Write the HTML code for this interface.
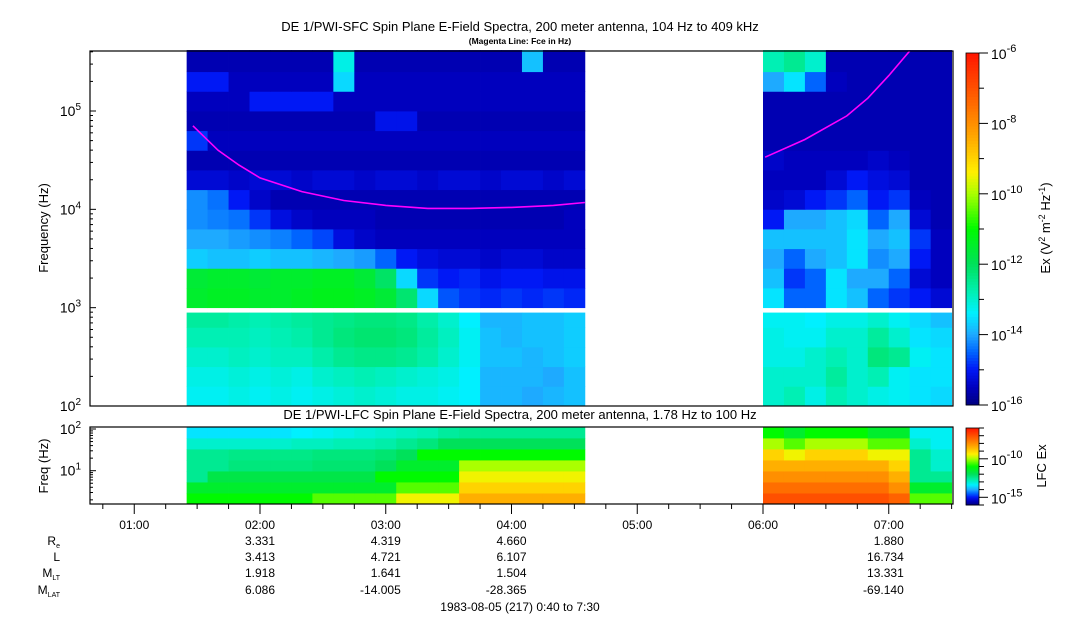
<!DOCTYPE html>
<html><head><meta charset="utf-8"><style>
html,body{margin:0;padding:0;background:#fff;}
svg{display:block;font-family:"Liberation Sans",sans-serif;}
</style></head><body>
<svg id="chart" width="1083" height="620" viewBox="0 0 1083 620" xmlns="http://www.w3.org/2000/svg">
<g id="cells"></g>
<g id="lines"></g>
<g id="axes"></g>
<text x="520" y="31" text-anchor="middle" font-size="13">DE 1/PWI-SFC  Spin Plane E-Field Spectra, 200 meter antenna, 104 Hz to 409 kHz</text>
<text x="520" y="44" text-anchor="middle" font-size="8.5" font-weight="bold">(Magenta Line: Fce in Hz)</text>
<text x="520" y="419" text-anchor="middle" font-size="13">DE 1/PWI-LFC  Spin Plane E-Field Spectra, 200 meter antenna, 1.78 Hz to 100 Hz</text>
<text transform="translate(48,228) rotate(-90)" text-anchor="middle" font-size="13">Frequency (Hz)</text>
<text transform="translate(48,466) rotate(-90)" text-anchor="middle" font-size="13">Freq (Hz)</text>
<text transform="translate(1050,228) rotate(-90)" text-anchor="middle" font-size="13">Ex (V<tspan dy="-5" font-size="9">2</tspan><tspan dy="5"> m</tspan><tspan dy="-5" font-size="9">-2</tspan><tspan dy="5"> Hz</tspan><tspan dy="-5" font-size="9">-1</tspan><tspan dy="5">)</tspan></text>
<text transform="translate(1046,466) rotate(-90)" text-anchor="middle" font-size="13">LFC Ex</text>
<g font-size="12">
<text x="60" y="545" text-anchor="end">R<tspan font-size="7" dy="3">e</tspan></text>
<text x="60" y="561" text-anchor="end">L</text>
<text x="60" y="577" text-anchor="end">M<tspan font-size="7" dy="3">LT</tspan></text>
<text x="60" y="594" text-anchor="end">M<tspan font-size="7" dy="3">LAT</tspan></text>
</g>
<g id="eph" font-size="12" text-anchor="end"></g>
<text x="520" y="611" text-anchor="middle" font-size="12">1983-08-05 (217) 0:40 to 7:30</text>
</svg>
<script>
// ---- data ----
const seg1Start = 85, seg2Start = 360, binMinutes = 10;
const sfcEdgesLow = [2.0, 2.2, 2.4, 2.6, 2.8, 2.95];
const sfcEdgesHigh = [3.0, 3.2, 3.4, 3.6, 3.8, 4.0, 4.2, 4.4, 4.6, 4.8, 5.0, 5.2, 5.4, 5.62];
const sfcSeg1 = [
[-13.3,-13.3,-13.2,-13.3,-13.2,-13.3,-13.2,-13.1,-13.0,-13.1,-13.2,-13.2,-13.3,-13.4,-13.9,-13.9,-14.0,-13.9,-13.8],
[-13.2,-13.2,-13.1,-13.2,-13.1,-13.2,-13.0,-12.9,-12.8,-12.9,-13.0,-13.1,-13.2,-13.4,-13.9,-13.9,-13.9,-14.0,-13.8],
[-13.0,-13.0,-12.9,-13.0,-12.9,-12.9,-12.7,-12.5,-12.4,-12.4,-12.5,-12.7,-13.0,-13.3,-13.8,-13.8,-13.9,-13.8,-13.7],
[-12.8,-12.8,-12.8,-12.9,-12.8,-12.7,-12.5,-12.3,-12.2,-12.2,-12.3,-12.6,-12.9,-13.3,-13.8,-13.9,-13.8,-13.8,-13.7],
[-12.6,-12.6,-12.7,-12.8,-12.7,-12.6,-12.5,-12.4,-12.3,-12.3,-12.4,-12.7,-13.0,-13.4,-13.9,-13.9,-13.8,-13.8,-13.7],
[-11.5,-11.4,-11.4,-11.5,-11.5,-11.4,-11.3,-11.3,-11.4,-11.6,-12.2,-13.6,-14.6,-14.8,-14.9,-14.8,-14.9,-14.8,-14.9],
[-11.6,-11.5,-11.5,-11.6,-11.5,-11.5,-11.4,-11.4,-11.6,-12.1,-13.6,-14.8,-15.0,-14.9,-15.1,-15.0,-15.0,-15.1,-15.1],
[-13.7,-13.8,-13.8,-13.7,-13.8,-13.8,-13.9,-14.0,-14.1,-14.5,-15.0,-15.2,-15.3,-15.3,-15.4,-15.3,-15.3,-15.4,-15.4],
[-14.0,-14.0,-14.1,-14.2,-14.3,-14.5,-14.7,-15.2,-15.4,-15.5,-15.5,-15.5,-15.5,-15.5,-15.5,-15.5,-15.5,-15.5,-15.5],
[-14.2,-14.3,-14.4,-14.8,-15.2,-15.4,-15.5,-15.5,-15.5,-15.6,-15.6,-15.6,-15.6,-15.6,-15.6,-15.6,-15.6,-15.6,-15.5],
[-14.2,-14.4,-15.0,-15.4,-15.6,-15.6,-15.6,-15.6,-15.6,-15.6,-15.6,-15.6,-15.6,-15.6,-15.6,-15.6,-15.6,-15.6,-15.6],
[-15.3,-15.3,-15.4,-15.3,-15.3,-15.4,-15.3,-15.3,-15.4,-15.3,-15.3,-15.4,-15.3,-15.3,-15.4,-15.3,-15.3,-15.4,-15.3],
[-15.6,-15.6,-15.6,-15.6,-15.6,-15.6,-15.6,-15.6,-15.6,-15.6,-15.6,-15.6,-15.6,-15.6,-15.6,-15.6,-15.6,-15.6,-15.6],
[-14.8,-15.5,-15.5,-15.5,-15.5,-15.5,-15.5,-15.5,-15.5,-15.5,-15.5,-15.5,-15.5,-15.5,-15.5,-15.5,-15.5,-15.5,-15.5],
[-15.6,-15.6,-15.6,-15.6,-15.6,-15.6,-15.6,-15.6,-15.6,-15.1,-15.1,-15.6,-15.6,-15.6,-15.6,-15.6,-15.6,-15.6,-15.6],
[-15.5,-15.5,-15.5,-15.0,-15.0,-15.0,-15.0,-15.5,-15.5,-15.5,-15.5,-15.5,-15.5,-15.5,-15.5,-15.5,-15.5,-15.5,-15.5],
[-15.0,-15.0,-15.5,-15.5,-15.5,-15.5,-15.5,-13.6,-15.5,-15.5,-15.5,-15.5,-15.5,-15.5,-15.5,-15.5,-15.5,-15.5,-15.5],
[-15.6,-15.6,-15.6,-15.6,-15.6,-15.6,-15.6,-13.2,-15.6,-15.6,-15.6,-15.6,-15.6,-15.6,-15.6,-15.6,-13.8,-15.6,-15.6]
];
const sfcSeg2 = [
[-13.0,-12.8,-13.2,-12.8,-13.0,-13.2,-13.3,-13.5,-13.6],
[-13.0,-13.0,-13.0,-12.6,-13.0,-12.8,-13.3,-13.5,-13.5],
[-13.2,-13.2,-13.0,-12.8,-13.0,-12.3,-12.5,-13.3,-13.5],
[-13.2,-13.3,-13.3,-13.0,-13.0,-12.6,-13.0,-13.5,-13.6],
[-13.3,-13.3,-13.4,-13.2,-13.2,-13.0,-13.3,-13.6,-13.8],
[-13.5,-14.5,-14.5,-13.5,-13.8,-14.5,-14.8,-15.0,-15.3],
[-13.8,-14.8,-14.5,-13.5,-14.0,-14.0,-14.5,-15.3,-15.5],
[-14.0,-14.5,-14.0,-13.8,-13.5,-14.2,-14.0,-15.0,-15.5],
[-13.8,-13.8,-13.8,-13.8,-13.5,-14.0,-13.8,-14.8,-15.5],
[-15.0,-14.0,-14.0,-13.8,-13.6,-14.5,-14.0,-15.3,-15.6],
[-15.4,-15.3,-15.0,-14.8,-14.5,-15.0,-14.8,-15.5,-15.6],
[-15.5,-15.5,-15.5,-15.3,-15.0,-15.2,-15.3,-15.6,-15.6],
[-15.4,-15.5,-15.5,-15.5,-15.5,-15.4,-15.5,-15.6,-15.6],
[-15.6,-15.6,-15.6,-15.6,-15.6,-15.6,-15.6,-15.6,-15.6],
[-15.6,-15.6,-15.6,-15.6,-15.6,-15.6,-15.6,-15.6,-15.6],
[-15.6,-15.6,-15.6,-15.6,-15.6,-15.6,-15.6,-15.6,-15.6],
[-14.0,-13.5,-14.5,-15.5,-15.6,-15.6,-15.6,-15.6,-15.6],
[-12.8,-12.5,-13.0,-15.6,-15.6,-15.6,-15.6,-15.6,-15.6]
];
const lfcEdges = [0.2, 0.464, 0.728, 0.992, 1.256, 1.52, 1.784, 2.05];
const lfcSeg1 = [
[-11.0,-11.0,-11.0,-11.0,-11.0,-11.0,-10.5,-10.5,-10.5,-10.5,-9.5,-9.5,-9.5,-8.5,-8.5,-8.5,-8.5,-8.5,-8.5],
[-11.5,-11.5,-11.5,-11.5,-11.5,-11.5,-11.5,-11.5,-11.5,-11.5,-10.5,-10.5,-10.5,-9.0,-9.0,-9.0,-9.0,-9.0,-9.0],
[-12.5,-11.8,-11.8,-11.8,-11.8,-11.8,-11.8,-11.8,-11.8,-11.0,-11.0,-11.0,-11.0,-9.5,-9.5,-9.5,-9.5,-9.5,-9.5],
[-12.5,-12.5,-12.3,-12.3,-12.3,-12.3,-12.2,-12.2,-12.2,-12.0,-11.5,-11.5,-11.5,-10.0,-10.0,-10.0,-10.0,-10.0,-10.0],
[-12.5,-12.5,-12.4,-12.4,-12.4,-12.4,-12.3,-12.3,-12.3,-12.2,-12.0,-11.0,-11.0,-11.0,-11.0,-11.0,-11.0,-11.0,-11.0],
[-13.0,-13.0,-13.0,-13.0,-13.0,-12.9,-12.9,-12.8,-12.8,-12.7,-12.5,-12.3,-12.0,-12.0,-12.0,-12.0,-12.0,-12.0,-12.0],
[-13.5,-13.5,-13.5,-13.5,-13.5,-13.4,-13.3,-13.2,-13.1,-13.0,-12.9,-12.8,-12.6,-12.5,-12.5,-12.5,-12.5,-12.5,-12.5]
];
const lfcSeg2 = [
[-7.0,-7.0,-7.0,-7.0,-7.0,-7.0,-7.3,-10.5,-10.5],
[-7.5,-7.5,-7.5,-7.5,-7.5,-7.5,-8.0,-11.5,-11.5],
[-8.0,-8.0,-8.0,-8.0,-8.0,-8.0,-8.5,-12.5,-12.5],
[-8.5,-8.5,-8.5,-8.5,-8.5,-8.5,-9.0,-12.5,-13.0],
[-9.0,-9.5,-9.0,-9.0,-9.0,-9.5,-9.5,-12.5,-13.0],
[-10.0,-10.5,-10.0,-10.0,-10.0,-10.5,-10.5,-13.0,-13.3],
[-11.0,-11.5,-11.0,-11.0,-11.0,-11.5,-11.5,-13.3,-13.3]
];
const fceTimes1 = [88,100,110,120,140,160,180,200,220,240,260,275];
const fceLog1 = [4.85,4.60,4.45,4.32,4.18,4.09,4.04,4.01,4.01,4.02,4.04,4.07];
const fceTimes2 = [361,380,400,410,420,430];
const fceLog2 = [4.53,4.71,4.95,5.13,5.36,5.61];
const hourTicks = [60,120,180,240,300,360,420];
const hourLabels = ["01:00","02:00","03:00","04:00","05:00","06:00","07:00"];
const ephTimes = [120,180,240,420];
const ephRe = ["3.331","4.319","4.660","1.880"];
const ephL = ["3.413","4.721","6.107","16.734"];
const ephMLT = ["1.918","1.641","1.504","13.331"];
const ephMLAT = ["6.086","-14.005","-28.365","-69.140"];

// ---- scales ----
const NS = "http://www.w3.org/2000/svg";
const X0 = 90, X1 = 953;
function xOf(t){ return 260 + (t-120)*(503/240); }
function ySfc(l){ return 406 - (l-2)*98.33; }
function yLfc(l){ return 429 + (2-l)*41.7; }
const cStops = [[-16,[0,0,128]],[-15.5,[0,0,190]],[-15,[0,24,245]],[-14.5,[0,100,255]],[-14,[30,170,255]],[-13.4,[0,240,255]],[-12.8,[0,240,180]],[-12,[0,225,90]],[-11,[0,250,0]],[-10,[170,255,0]],[-9.4,[255,240,0]],[-8.5,[255,175,0]],[-7.5,[255,110,0]],[-6,[255,20,0]]];
function color(v){
  if(v<=cStops[0][0]) return "rgb("+cStops[0][1]+")";
  for(let i=1;i<cStops.length;i++){
    if(v<=cStops[i][0]){
      const a=cStops[i-1], b=cStops[i], f=(v-a[0])/(b[0]-a[0]);
      return "rgb("+a[1].map((c,k)=>Math.round(c+(b[1][k]-c)*f)).join(",")+")";
    }
  }
  return "rgb("+cStops[cStops.length-1][1]+")";
}
function mk(tag, attrs, parent){
  const e=document.createElementNS(NS,tag);
  for(const k in attrs) e.setAttribute(k,attrs[k]);
  parent.appendChild(e); return e;
}
const cells=document.getElementById("cells");
function drawGrid(mat, start, edges, rowOffset, yfn, name){
  for(let r=0;r<edges.length-1;r++){
    const row=mat[r+rowOffset];
    for(let c=0;c<row.length;c++){
      const xa=xOf(start+c*binMinutes), xb=xOf(start+(c+1)*binMinutes);
      const ya=yfn(edges[r+1]), yb=yfn(edges[r]);
      const el=mk("rect",{x:xa.toFixed(2),y:ya.toFixed(2),width:(xb-xa+0.4).toFixed(2),height:(yb-ya+0.4).toFixed(2),fill:color(row[c])},cells);
      
      
    }
  }
}
drawGrid(sfcSeg1, seg1Start, sfcEdgesLow, 0, ySfc, 'sfc-cell');
drawGrid(sfcSeg1, seg1Start, sfcEdgesHigh, 5, ySfc, 'sfc-cell');
drawGrid(sfcSeg2, seg2Start, sfcEdgesLow, 0, ySfc, 'sfc-cell');
drawGrid(sfcSeg2, seg2Start, sfcEdgesHigh, 5, ySfc, 'sfc-cell');
drawGrid(lfcSeg1, seg1Start, lfcEdges, 0, yLfc, 'lfc-cell');
drawGrid(lfcSeg2, seg2Start, lfcEdges, 0, yLfc, 'lfc-cell');

const lines=document.getElementById("lines");
[[fceTimes1,fceLog1],[fceTimes2,fceLog2]].forEach(([ts,ls])=>{
  const d=ts.map((t,i)=>(i?"L":"M")+xOf(t).toFixed(1)+","+ySfc(ls[i]).toFixed(1)).join(" ");
  const p=mk("path",{d:d,fill:"none",stroke:"#ff00ff","stroke-width":"1.6"},lines);
  
  
});

// ---- axes ----
const ax=document.getElementById("axes");
function frame(y0,y1,name){
  const r=mk("rect",{x:X0,y:y0,width:X1-X0,height:y1-y0,fill:"none",stroke:"#000","stroke-width":"1.2"},ax);
  
  
}
frame(51,406,'sfc-frame'); frame(427,504,'lfc-frame');
function logTicks(yfn, lo, hi, decs){
  for(let d=Math.floor(lo); d<=hi; d++){
    for(let m=1;m<10;m++){
      const l=d+Math.log10(m); if(l<lo||l>hi) continue;
      const y=yfn(l), len=m===1?6:3;
      mk("line",{x1:X0,x2:X0+len,y1:y,y2:y,stroke:"#000"},ax);
    }
  }
  decs.forEach(d=>{
    const t=mk("text",{x:X0-9,y:yfn(d)+5,"text-anchor":"end","font-size":"14"},ax);
    t.textContent="10";
    const s=mk("tspan",{dy:"-6","font-size":"10"},t); s.textContent=String(d);
    
    
  });
}
logTicks(ySfc,2,5.62,[2,3,4,5]);
logTicks(yLfc,0.2,2.05,[1,2]);
for(let t=45;t<=450;t+=15){
  const x=xOf(t); if(x<X0||x>X1) continue;
  const major=t%60===0;
  mk("line",{x1:x,x2:x,y1:504,y2:major?514:509,stroke:"#000"},ax);
}
hourTicks.forEach((t,i)=>{
  const tx=mk("text",{x:xOf(t),y:529,"text-anchor":"middle","font-size":"12"},ax);
  tx.textContent=hourLabels[i];
  
  
});
const eph=document.getElementById("eph");
[[ephRe,545],[ephL,561],[ephMLT,577],[ephMLAT,594]].forEach(([arr,y])=>{
  arr.forEach((v,i)=>{
    const tx=mk("text",{x:xOf(ephTimes[i])+15,y:y},eph);
    tx.textContent=v;
    
    
  });
});
// colorbars
function colorbar(y0,y1,labels,name){
  const n=120;
  for(let i=0;i<n;i++){
    const v2=-6-10*(i+0.5)/n;
    const ya=y0+(y1-y0)*i/n;
    mk("rect",{x:966,y:ya.toFixed(2),width:13,height:((y1-y0)/n+0.5).toFixed(2),fill:color(v2)},ax);
  }
  const r=mk("rect",{x:966,y:y0,width:13,height:y1-y0,fill:"none",stroke:"#000","stroke-width":"0.8"},ax);
  
  
  for(let d=-6; d>=-16; d--){
    const y=y0+(y1-y0)*(-6-d)/10;
    const maj=labels.indexOf(d)>=0;
    mk("line",{x1:979,x2:maj?988:984,y1:y,y2:y,stroke:"#000"},ax);
    if(maj){
      const t=mk("text",{x:991,y:y+6,"font-size":"14"},ax);
      t.textContent="10";
      const s=mk("tspan",{dy:"-7","font-size":"11"},t); s.textContent=String(d);
      
      
    }
  }
}
colorbar(53,405,[-6,-8,-10,-12,-14,-16],'sfc-colorbar');
colorbar(428,505,[-10,-15],'lfc-colorbar');
</script>
</body></html>
